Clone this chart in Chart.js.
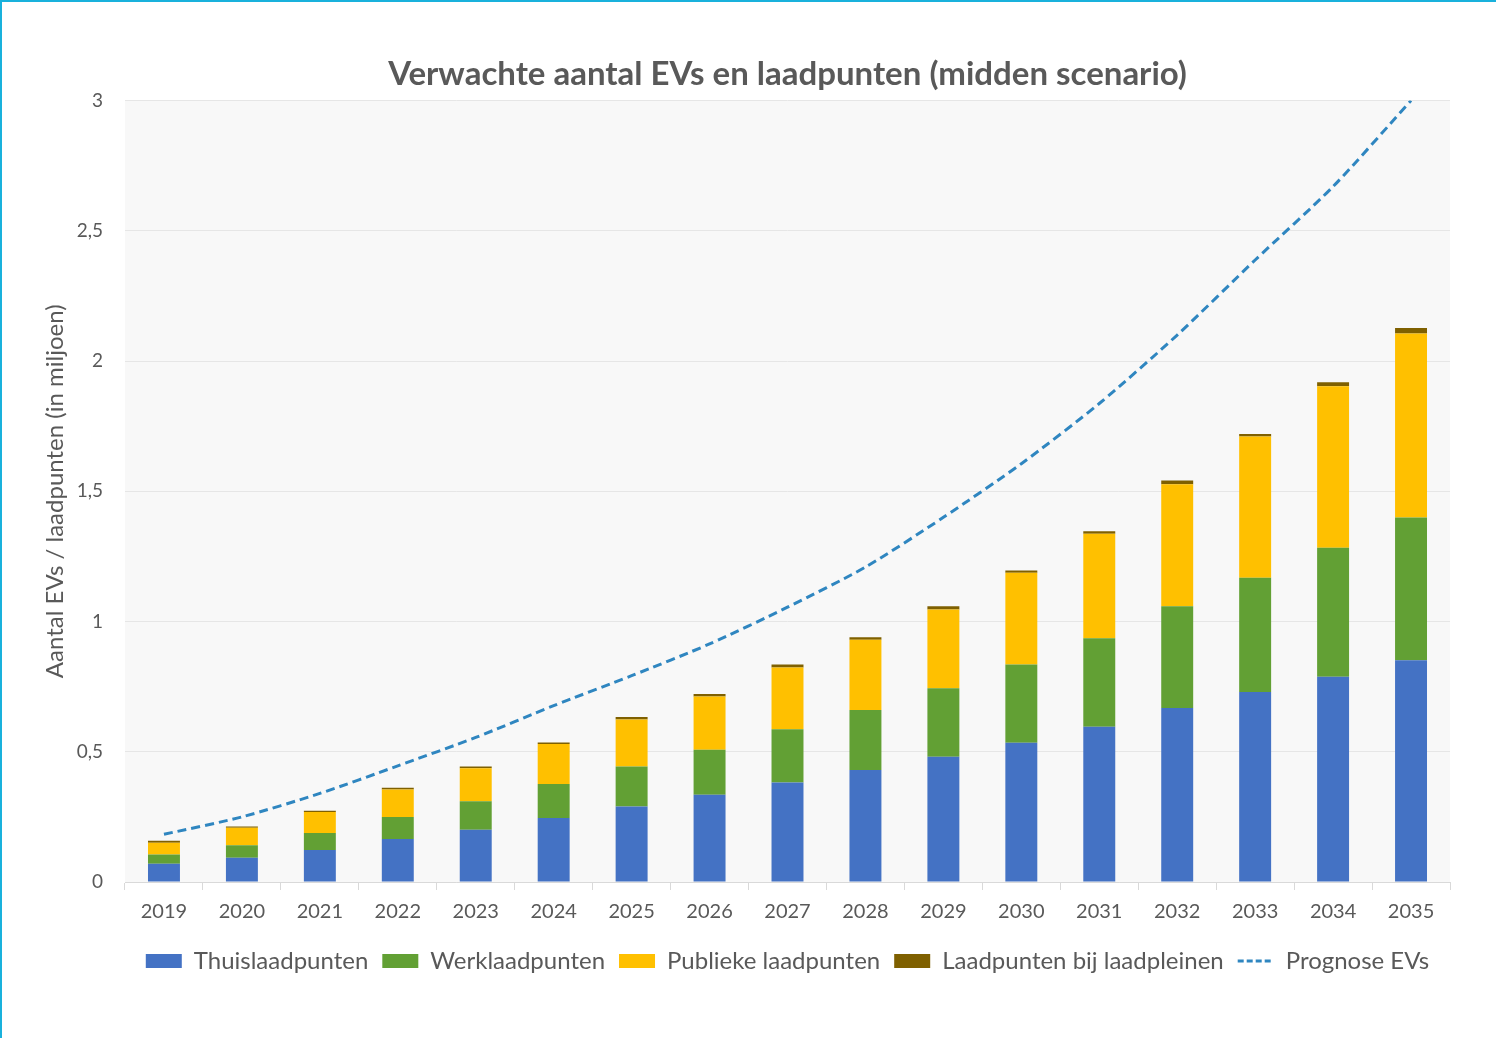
<!DOCTYPE html>
<html>
<head>
<meta charset="utf-8">
<script src="https://cdn.jsdelivr.net/npm/chart.js@4.4.0/dist/chart.umd.min.js"></script>
<style>
  html, body { margin: 0; padding: 0; background: #fff; }
  body { width: 1494px; height: 1036px; border-top: 2px solid #19b1dc; border-left: 2px solid #19b1dc; }
  canvas { display: block; }
</style>
</head>
<body>
<canvas id="myChart" width="1494" height="1036"></canvas>
<script>
// Data (in miljoenen)
const years = ['2019', '2020', '2021', '2022', '2023', '2024', '2025', '2026', '2027',
  '2028', '2029', '2030', '2031', '2032', '2033', '2034', '2035'];

const thuis = [0.070, 0.093, 0.123, 0.165, 0.201, 0.246, 0.290, 0.335, 0.382,
  0.430, 0.481, 0.535, 0.596, 0.668, 0.729, 0.788, 0.851];
const werk = [0.036, 0.048, 0.065, 0.085, 0.109, 0.130, 0.153, 0.173, 0.204,
  0.230, 0.263, 0.300, 0.340, 0.391, 0.439, 0.495, 0.548];
const publiek = [0.045, 0.067, 0.081, 0.105, 0.127, 0.154, 0.181, 0.204, 0.238,
  0.270, 0.302, 0.352, 0.401, 0.468, 0.542, 0.620, 0.707];
const laadpleinen = [0.007, 0.005, 0.005, 0.007, 0.006, 0.006, 0.009, 0.010, 0.011,
  0.010, 0.013, 0.009, 0.010, 0.014, 0.010, 0.016, 0.021];
const prognoseEVs = [0.183, 0.250, 0.340, 0.446, 0.555, 0.677, 0.792, 0.914, 1.055,
  1.209, 1.400, 1.606, 1.837, 2.100, 2.388, 2.670, 3.000];

const yTickLabels = ['0', '0,5', '1', '1,5', '2', '2,5', '3'];

const FONT = 'Lato, "Open Sans", sans-serif';
const GREY = '#595959';

// light grey plot area like the original
const plotBackground = {
  id: 'plotBackground',
  beforeDraw(chart) {
    const a = chart.chartArea;
    const ctx = chart.ctx;
    ctx.save();
    ctx.fillStyle = '#f8f8f8';
    ctx.fillRect(a.left, a.top, a.right - a.left, a.bottom - a.top);
    ctx.restore();
  }
};

function barSet(label, values, color) {
  return {
    type: 'bar',
    label: label,
    data: values,
    backgroundColor: color,
    borderWidth: 0,
    stack: 'lp',
    order: 1,
    barPercentage: 0.41,
    categoryPercentage: 1
  };
}

const ctx = document.getElementById('myChart').getContext('2d');

const myChart = new Chart(ctx, {
  data: {
    labels: years,
    datasets: [
      barSet('Thuislaadpunten', thuis, '#4472c4'),
      barSet('Werklaadpunten', werk, '#62a034'),
      barSet('Publieke laadpunten', publiek, '#ffc000'),
      barSet('Laadpunten bij laadpleinen', laadpleinen, '#7f6000'),
      {
        type: 'line',
        label: 'Prognose EVs',
        data: prognoseEVs,
        borderColor: '#2f86c0',
        backgroundColor: '#2f86c0',
        borderWidth: 3,
        borderDash: [9, 5],
        pointRadius: 0,
        tension: 0.25,
        fill: false,
        stack: 'ev',
        order: 0
      }
    ]
  },
  plugins: [plotBackground],
  options: {
    responsive: false,
    animation: false,
    layout: { padding: { left: 0, right: 46, top: 0, bottom: 55 } },
    plugins: {
      tooltip: { enabled: false },
      title: {
        display: true,
        text: 'Verwachte aantal EVs en laadpunten (midden scenario)',
        color: GREY,
        fullSize: false,
        font: { family: FONT, size: 33, weight: 'bold' },
        padding: { top: 53, bottom: 6 }
      },
      legend: {
        position: 'bottom',
        fullSize: false,
        labels: {
          color: GREY,
          font: { family: FONT, size: 24 },
          usePointStyle: true,
          pointStyleWidth: 36,
          boxHeight: 14,
          padding: 14,
          sort: (a, b) => a.datasetIndex - b.datasetIndex,
          generateLabels(chart) {
            const items = Chart.defaults.plugins.legend.labels.generateLabels(chart);
            items.forEach((it) => {
              if (it.datasetIndex === 4) {
                it.pointStyle = 'line';
                it.lineDash = [6, 3];
                it.lineWidth = 3;
                it.strokeStyle = '#2f86c0';
              } else {
                it.pointStyle = 'rect';
                it.lineWidth = 0;
              }
            });
            return items;
          }
        }
      }
    },
    scales: {
      x: {
        stacked: true,
        grid: {
          display: true,
          drawOnChartArea: false,
          tickLength: 8,
          color: '#d9d9d9'
        },
        border: { color: '#d9d9d9' },
        ticks: {
          color: GREY,
          font: { family: FONT, size: 20 },
          padding: 10,
          maxRotation: 0
        },
        afterFit(scale) { scale.height = 53; }
      },
      y: {
        stacked: true,
        min: 0,
        max: 3,
        border: { display: false },
        grid: { color: '#e6e6e6', drawTicks: false },
        ticks: {
          stepSize: 0.5,
          color: GREY,
          font: { family: FONT, size: 19 },
          padding: 22,
          callback: (value, index) => yTickLabels[index]
        },
        title: {
          display: true,
          text: 'Aantal EVs / laadpunten (in miljoen)',
          color: GREY,
          font: { family: FONT, size: 24 },
          padding: { top: 39, bottom: 0 }
        },
        afterFit(scale) { scale.width = 123; }
      }
    }
  }
});
</script>
</body>
</html>
